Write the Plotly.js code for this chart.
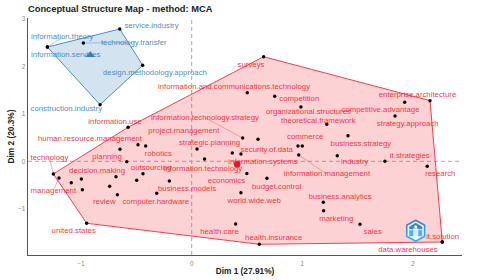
<!DOCTYPE html>
<html>
<head>
<meta charset="utf-8">
<script src="https://cdn.plot.ly/plotly-3.0.1.min.js"></script>
<style>html,body{margin:0;padding:0;background:#fff}#c{width:480px;height:280px}</style>
</head>
<body>
<div id="c"></div>
<script>
// Cluster 1 (blue)
const blueTerms = ["information.theory","information.services","service.industry","technology.transfer","design.methodology.approach","construction.industry"];
const blueX = [-1.304,-1.304,-0.650,-0.979,-0.443,-0.828];
const blueY = [2.406,2.406,2.785,2.491,2.021,1.192];
const blueLabelX = [-1.170,-1.138,-0.363,-0.523,-0.332,-1.133];
const blueLabelY = [2.611,2.232,2.855,2.497,1.859,1.101];
const blueHull = ["information.theory","service.industry","design.methodology.approach","construction.industry"];
const blueCentroid = [-0.916,2.238];

// Cluster 2 (red)
const redTerms = ["information.and.communications.technology","competition","organizational.structures","theoretical.framework","competitive.advantage","strategy.approach","enterprise.architecture","surveys","commerce","business.strategy","security.of.data","information.systems","information.management","information.technology.strategy","strategic.planning","project.management","information.technology","economics","world.wide.web","budget.control","health.care","health.insurance","business.analytics","marketing","sales","it.solution","data.warehouses","research","it.strategies","industry","business.models","computer.hardware","review","decision.making","planning","outsourcing","robotics","technology","management","united.states","human.resource.management","information.use"];
const redX = [0.502,0.750,0.987,1.220,1.924,1.837,2.153,0.650,0.960,1.412,0.599,0.445,0.967,0.461,0.367,0.048,0.116,0.498,0.445,0.680,0.397,0.611,1.189,1.192,1.520,2.264,2.264,2.128,1.746,1.315,-0.316,-0.672,-0.741,-0.684,-0.648,-0.440,-0.416,-1.250,-1.199,-0.949,-0.485,-0.575];
const redY = [1.444,1.368,1.143,0.779,1.242,0.954,1.276,2.202,0.322,0.539,0.463,0.154,0.133,0.491,0.175,0.259,0.048,-0.257,-0.661,-0.358,-1.320,-1.747,-0.863,-1.040,-1.326,-1.699,-1.699,-0.105,0.000,0.118,-0.674,-0.703,-0.526,-0.324,0.253,-0.261,0.322,-0.267,-0.352,-1.305,0.349,0.716];
const redLabelX = [0.382,0.972,1.055,1.144,1.706,1.952,2.040,0.536,1.026,1.529,0.678,0.644,1.222,0.120,0.161,-0.071,0.102,0.314,0.565,0.768,0.251,0.741,1.340,1.306,1.635,2.267,1.954,2.246,1.970,1.473,-0.042,-0.324,-0.790,-0.855,-0.765,-0.368,-0.302,-1.285,-1.250,-1.066,-0.919,-0.693];
const redLabelY = [1.564,1.305,1.044,0.848,1.080,0.779,1.396,2.027,0.512,0.364,0.238,-0.021,-0.274,0.918,0.379,0.638,-0.162,-0.421,-0.829,-0.547,-1.482,-1.621,-0.745,-1.215,-1.495,-1.588,-1.874,-0.274,0.112,-0.021,-0.589,-0.857,-0.863,-0.198,0.084,-0.147,0.160,0.063,-0.619,-1.474,0.469,0.834];
const redHull = ["technology","information.use","surveys","enterprise.architecture","it.solution","health.insurance","united.states"];
const redCentroid = [0.411,-0.063];
// Points drawn without a readable label in the reference
const extraX = [0.999,-0.587,-0.497,-0.202,-0.997,-1.088,-0.988];
const extraY = [0.322,-0.008,-0.400,-0.415,-0.373,-0.451,-0.598];
// Terms whose label is joined to the point by a thin segment
const blueLeaders = ["information.theory","technology.transfer"];
const redLeaders = ["information.technology.strategy","information.management","technology","management"];

const dimTitleX = "Dim 1 (27.91%)";
const dimTitleY = "Dim 2 (20.3%)";
const xTicks = [-1,0,1,2];
const yTicks = [-1,0,1,2,3];

const BLUE = "#4A90C8", RED = "#F2404E";
const hull = (terms, xs, ys, names) => {
  const c = names.concat(names[0]);
  return {x:c.map(n=>xs[terms.indexOf(n)]), y:c.map(n=>ys[terms.indexOf(n)])};
};
const bh = hull(blueTerms, blueX, blueY, blueHull);
const rh = hull(redTerms, redX, redY, redHull);
const leaderTraces = (names, terms, xs, ys, lx, ly, col) => names.map(n => {
  const i = terms.indexOf(n);
  return {x:[xs[i],lx[i]], y:[ys[i],ly[i]], mode:"lines", line:{color:col,width:0.6}, opacity:0.7, hoverinfo:"skip"};
});
const data = [
  {x:bh.x,y:bh.y,mode:"lines",fill:"toself",fillcolor:"rgba(55,126,184,0.22)",line:{color:BLUE,width:1},hoverinfo:"skip"},
  {x:rh.x,y:rh.y,mode:"lines",fill:"toself",fillcolor:"rgba(240,48,63,0.22)",line:{color:RED,width:1},hoverinfo:"skip"},
  ...leaderTraces(blueLeaders,blueTerms,blueX,blueY,blueLabelX,blueLabelY,BLUE),
  ...leaderTraces(redLeaders,redTerms,redX,redY,redLabelX,redLabelY,RED),
  {x:blueX.concat(redX,extraX),y:blueY.concat(redY,extraY),mode:"markers",marker:{color:"#000",size:3.4},hoverinfo:"skip"},
  {x:[blueCentroid[0]],y:[blueCentroid[1]],mode:"markers",marker:{color:"#377EB8",size:8,symbol:"triangle-up"},hoverinfo:"skip"},
  {x:[redCentroid[0]],y:[redCentroid[1]],mode:"markers",marker:{color:"#EE1122",size:6.5},hoverinfo:"skip"},
  {x:blueLabelX,y:blueLabelY,text:blueTerms,mode:"text",textposition:"middle center",textfont:{family:"Liberation Sans",size:7.8,color:"rgba(55,126,184,0.9)"},cliponaxis:false,hoverinfo:"skip"},
  {x:redLabelX,y:redLabelY,text:redTerms,mode:"text",textposition:"middle center",textfont:{family:"Liberation Sans",size:7.8,color:"rgba(240,25,45,0.9)"},cliponaxis:false,hoverinfo:"skip"}
];
const logo = "data:image/svg+xml;utf8," + encodeURIComponent(
 '<svg xmlns="http://www.w3.org/2000/svg" width="40" height="46" viewBox="0 0 40 46"><defs><linearGradient id="g" x1="0" y1="0" x2="0" y2="1"><stop offset="0" stop-color="#3f7fc4"/><stop offset="1" stop-color="#30b8f0"/></linearGradient></defs><polygon points="20,2 38,12 38,34 20,44 2,34 2,12" fill="#eaf6fd" stroke="url(#g)" stroke-width="3.5"/><polygon points="7,15 20,7 33,15 33,20 7,20" fill="#3f86c8"/><rect x="7" y="22" width="26" height="12" fill="#4fb4ea"/><rect x="15" y="18" width="10" height="20" fill="#fff" opacity="0.75"/><circle cx="20" cy="15" r="3" fill="#fff"/></svg>');
const layout = {
  width:480,height:280,showlegend:false,paper_bgcolor:"#fff",plot_bgcolor:"#fff",
  margin:{l:28,r:18,t:18,b:25,pad:0},
  title:{text:"Conceptual Structure Map - method: MCA",x:28/480,xanchor:"left",y:1-9/280,yanchor:"middle",font:{family:"Liberation Sans",size:9.3,color:"#222",weight:700}},
  xaxis:{range:[-1.479,2.442],tickvals:xTicks,ticks:"",showgrid:false,zeroline:false,showline:true,linecolor:"#555",linewidth:1.4,
    tickfont:{family:"Liberation Sans",size:6.5,color:"#8a8a8a"},ticklabelstandoff:2,
    title:{text:dimTitleX,standoff:2,font:{family:"Liberation Sans",size:8.3,color:"#222",weight:700}}},
  yaxis:{range:[-1.973,3.017],tickvals:yTicks,ticks:"",showgrid:false,zeroline:false,showline:true,linecolor:"#555",linewidth:1.4,
    tickfont:{family:"Liberation Sans",size:6.5,color:"#8a8a8a"},
    title:{text:dimTitleY,standoff:2,font:{family:"Liberation Sans",size:8.3,color:"#222",weight:700}}},
  shapes:[
    {type:"line",xref:"paper",x0:0,x1:1,yref:"y",y0:0,y1:0,layer:"below",line:{color:"#a8a8a8",width:1,dash:"4px,3px"}},
    {type:"line",yref:"paper",y0:0,y1:1,xref:"x",x0:0,x1:0,layer:"below",line:{color:"#a8a8a8",width:1,dash:"4px,3px"}}
  ],
  images:[{source:logo,xref:"paper",yref:"paper",x:(415.7-28)/434,y:(255-230.7)/237,sizex:20/434,sizey:23/237,xanchor:"center",yanchor:"middle",sizing:"stretch",layer:"above"}]
};
Plotly.newPlot("c",data,layout,{staticPlot:true,displayModeBar:false});
</script>
</body>
</html>
